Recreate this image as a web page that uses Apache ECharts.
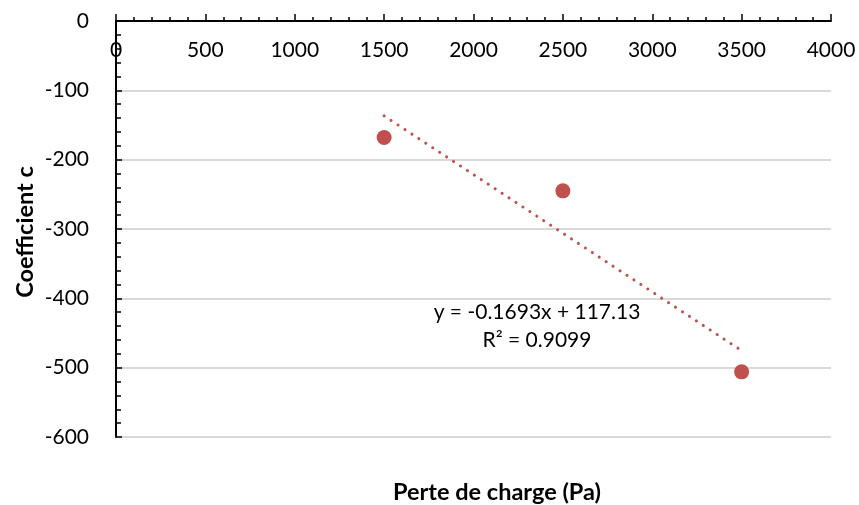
<!DOCTYPE html>
<html>
<head>
<meta charset="utf-8">
<script src="https://cdn.jsdelivr.net/npm/echarts@6/dist/echarts.min.js"></script>
<style>
  html, body { margin: 0; padding: 0; background: #fff; }
  #chart { width: 859px; height: 505px; }
</style>
</head>
<body>
<div id="chart"></div>
<script>
const pointsX = [1500, 2500, 3500];
const pointsY = [-168, -245, -506];
const trendX = [1500, 3500];
const trendY = [-136.8, -475.4];
const equationText = 'y = -0.1693x + 117.13';
const r2Text = 'R² = 0.9099';
const xTitle = 'Perte de charge (Pa)';
const yTitle = 'Coefficient c';

const red = '#c0504d';
const font = 'Lato, "Open Sans", sans-serif';

const chart = echarts.init(document.getElementById('chart'));
chart.setOption({
    animation: false,
    grid: { left: 116, right: 28, top: 21, bottom: 68 },
    xAxis: {
        type: 'value',
        position: 'top',
        min: 0,
        max: 4000,
        interval: 500,
        axisLine: { show: true, onZero: false, lineStyle: { color: '#000', width: 2 } },
        axisTick: { show: true, inside: false, length: 7, lineStyle: { color: '#000', width: 1.5 } },
        minorTick: { show: true, splitNumber: 5, length: 4, lineStyle: { color: '#000', width: 1.5 } },
        axisLabel: { inside: true, margin: 19, color: '#000', fontSize: 21, fontFamily: font,
            formatter: v => String(v) },
        splitLine: { show: false }
    },
    yAxis: {
        type: 'value',
        min: -600,
        max: 0,
        interval: 100,
        axisLine: { show: true, onZero: false, lineStyle: { color: '#000', width: 2 } },
        axisTick: { show: true, inside: true, length: 6, lineStyle: { color: '#000', width: 1.5 } },
        minorTick: { show: true, splitNumber: 5, length: 5, lineStyle: { color: '#000', width: 1.5 } },
        axisLabel: { margin: 27, color: '#000', fontSize: 21, fontFamily: font,
            formatter: v => String(v) },
        splitLine: { show: true, lineStyle: { color: '#d9d9d9', width: 2 } }
    },
    graphic: [
        {
            type: 'text',
            x: 497,
            y: 492,
            style: { text: xTitle, fill: '#000', font: 'bold 23.5px ' + font,
                align: 'center', verticalAlign: 'middle' }
        },
        {
            type: 'text',
            x: 25,
            y: 232,
            rotation: Math.PI / 2,
            style: { text: yTitle, fill: '#000', font: 'bold 23.5px ' + font,
                align: 'center', verticalAlign: 'middle' }
        },
        {
            type: 'text',
            x: 537,
            y: 312,
            style: { text: equationText, fill: '#000', font: '21px ' + font,
                align: 'center', verticalAlign: 'middle' }
        },
        {
            type: 'text',
            x: 537,
            y: 340,
            style: { text: r2Text, fill: '#000', font: '21px ' + font,
                align: 'center', verticalAlign: 'middle' }
        }
    ],
    series: [
        {
            type: 'line',
            data: trendX.map((x, i) => [x, trendY[i]]),
            symbol: 'none',
            lineStyle: { color: red, width: 3, type: [0.1, 8.2], cap: 'round' },
            z: 3
        },
        {
            type: 'scatter',
            data: pointsX.map((x, i) => [x, pointsY[i]]),
            symbolSize: 15,
            itemStyle: { color: red, opacity: 1 },
            z: 4
        }
    ]
});
</script>
</body>
</html>
